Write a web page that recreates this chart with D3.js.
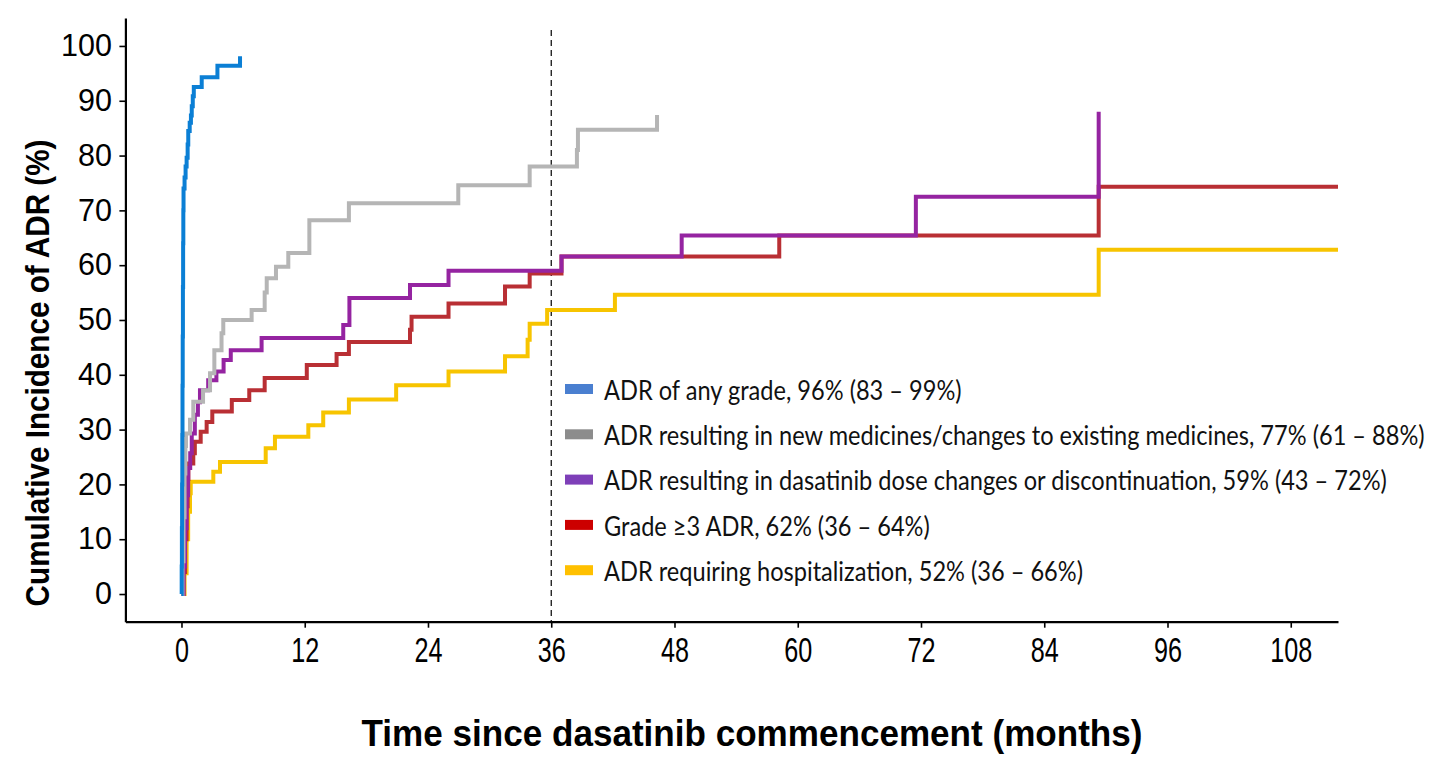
<!DOCTYPE html>
<html>
<head>
<meta charset="utf-8">
<script src="https://cdn.jsdelivr.net/npm/d3@7"></script>
<style>
  body { margin: 0; background: #fff; }
</style>
</head>
<body>
<div id="chart"></div>
<script>
// [months, cumulative incidence %]
const anyGrade = [[0,0],[0.02,5],[0.04,12],[0.06,20],[0.08,29],[0.1,38],[0.12,47],[0.14,56],[0.16,64],[0.18,70],[0.2,74],[0.3,76],[0.4,78],[0.5,79.6],[0.6,82],[0.66,84.5],[0.8,86],[0.92,87.3],[1.0,89],[1.1,90.8],[1.2,92.5],[1.97,94.3],[3.5,96.4],[5.7,98.1]];
const newMedicines = [[0,0],[0.1,6],[0.2,14],[0.3,22],[0.38,27],[0.44,29.3],[0.83,31.8],[1.15,35.1],[2.1,37.2],[2.78,40.3],[3.2,44.5],[3.9,47.6],[4.07,50],[6.83,51.8],[8.1,55],[8.3,57.6],[9.2,59.7],[10.4,62.2],[12.45,68.2],[16.3,71.3],[26.95,74.6],[33.9,78.0],[38.5,81],[38.6,84.7],[46.3,87.4]];
const doseChanges = [[0,0],[0.2,5],[0.35,12],[0.5,18],[0.65,23],[0.85,25.7],[1.0,29.3],[1.3,32.7],[1.6,35],[1.8,37.2],[2.6,39.0],[3.4,40.6],[4.1,42.7],[4.8,44.5],[7.8,46.7],[15.75,49.1],[16.35,54.0],[22.25,56.4],[26.0,59.0],[37.0,61.6],[48.7,65.4],[71.5,72.5],[89.3,88.0]];
const grade3 = [[0,0],[0.2,4],[0.35,10],[0.5,16],[0.6,21],[0.67,23.8],[1.15,25.7],[1.3,27.8],[1.87,29.6],[2.45,31.4],[3.0,33.3],[4.9,35.4],[6.6,37.2],[8.1,39.4],[12.2,41.8],[15.1,43.8],[16.3,46.0],[22.25,48.2],[22.4,50.6],[26.0,53.0],[31.5,56.1],[33.9,58.5],[37.0,61.6],[58.2,65.4],[89.3,74.3],[112.6,74.3]];
const hospital = [[0,0],[0.3,3.8],[0.5,10],[0.65,15],[0.83,18.4],[0.9,20.5],[3.1,22.3],[3.75,24.1],[8.2,26.6],[9.1,28.7],[12.35,30.8],[13.8,33.1],[16.3,35.5],[20.9,38.1],[26.0,40.6],[31.5,43.4],[33.7,46.4],[33.9,49.3],[35.6,51.8],[42.2,54.6],[89.3,62.8],[112.6,62.8]];

const legendLabels = [
  "ADR of any grade, 96% (83 \u2013 99%)",
  "ADR resulting in new medicines/changes to existing medicines, 77% (61 \u2013 88%)",
  "ADR resulting in dasatinib dose changes or discontinuation, 59% (43 \u2013 72%)",
  "Grade \u22653 ADR, 62% (36 \u2013 64%)",
  "ADR requiring hospitalization, 52% (36 \u2013 66%)"
];
const lineColors = ["#0b7fd5", "#b5b5b5", "#9524a1", "#b92f34", "#f7c400"];
const swatchColors = ["#4a7fd0", "#8c8c8c", "#7e3fb8", "#cc0000", "#ffc000"];
const xTicks = [0, 12, 24, 36, 48, 60, 72, 84, 96, 108];
const yTicks = [0, 10, 20, 30, 40, 50, 60, 70, 80, 90, 100];
const refMonth = 36;

const series = [anyGrade, newMedicines, doseChanges, grade3, hospital];
const drawOrder = [4, 3, 2, 1, 0];

const width = 1436;
const height = 763;
const margin = { top: 18, right: 98, bottom: 141.3, left: 125.4 };
const arial = "'Liberation Sans', Arial, sans-serif";

const svg = d3.select("#chart")
    .append("svg")
    .attr("width", width)
    .attr("height", height);

const xScale = d3.scaleLinear()
    .domain([-5.46, 112.6])
    .range([margin.left, width - margin.right]);

const yScale = d3.scaleLinear()
    .domain([-5.05, 105.1])
    .range([height - margin.bottom, margin.top]);

// reference line at 36 months
svg.append("line")
    .attr("x1", xScale(refMonth)).attr("x2", xScale(refMonth))
    .attr("y1", 30).attr("y2", height - margin.bottom)
    .attr("stroke", "#000")
    .attr("stroke-width", 1.2)
    .attr("stroke-dasharray", "6,4");

const line = d3.line()
    .x((d) => xScale(d[0]))
    .y((d) => yScale(d[1]))
    .curve(d3.curveStepAfter);

drawOrder.forEach((i) => {
    svg.append("path")
        .datum(series[i])
        .attr("fill", "none")
        .attr("stroke", lineColors[i])
        .attr("stroke-width", 4)
        .attr("d", line);
});

// axes
const xAxis = svg.append("g")
    .attr("transform", `translate(0,${height - margin.bottom})`)
    .call(d3.axisBottom(xScale).tickValues(xTicks).tickSize(6).tickSizeOuter(0).tickPadding(9));

xAxis.selectAll("text")
    .attr("font-family", arial)
    .attr("font-size", 36)
    .attr("fill", "#000")
    .attr("transform", "scale(0.7,1)");

const yAxis = svg.append("g")
    .attr("transform", `translate(${margin.left},0)`)
    .call(d3.axisLeft(yScale).tickValues(yTicks).tickSize(6).tickSizeOuter(0).tickPadding(7.4));

yAxis.selectAll("text")
    .attr("font-family", arial)
    .attr("font-size", 30.5)
    .attr("fill", "#000");

svg.selectAll(".domain").attr("stroke", "#000").attr("stroke-width", 2.2);
svg.selectAll(".tick line").attr("stroke", "#000").attr("stroke-width", 1.6);

// axis titles, squeezed along the text to the widths in the picture
const xTitle = svg.append("text")
    .attr("text-anchor", "middle")
    .attr("font-family", arial)
    .attr("font-weight", "bold")
    .attr("font-size", 37)
    .text("Time since dasatinib commencement (months)");
const xSq = 781 / xTitle.node().getComputedTextLength();
xTitle.attr("transform", `translate(752,746) scale(${xSq},1)`);

const yTitle = svg.append("text")
    .attr("text-anchor", "middle")
    .attr("font-family", arial)
    .attr("font-weight", "bold")
    .attr("font-size", 34)
    .text("Cumulative Incidence of ADR (%)");
const ySq = 467 / yTitle.node().getComputedTextLength();
yTitle.attr("transform", `translate(49,373) rotate(-90) scale(${ySq},1)`);

// legend
const legend = svg.append("g").attr("transform", "translate(565,389)");
const rows = legend.selectAll("g")
    .data(legendLabels)
    .join("g")
    .attr("transform", (d, i) => `translate(0,${i * 45.3})`);

rows.append("rect")
    .attr("x", 0).attr("y", -5)
    .attr("width", 28).attr("height", 10)
    .attr("fill", (d, i) => swatchColors[i]);

const labels = rows.append("text")
    .attr("font-family", "Lato, 'Open Sans', sans-serif")
    .attr("font-size", 27)
    .attr("dominant-baseline", "central")
    .attr("fill", "#111")
    .text((d) => d);

const widest = d3.max(labels.nodes(), (n) => n.getComputedTextLength());
const squeeze = 821 / widest;
labels.attr("transform", `translate(39,0) scale(${squeeze},1)`);
</script>
</body>
</html>
